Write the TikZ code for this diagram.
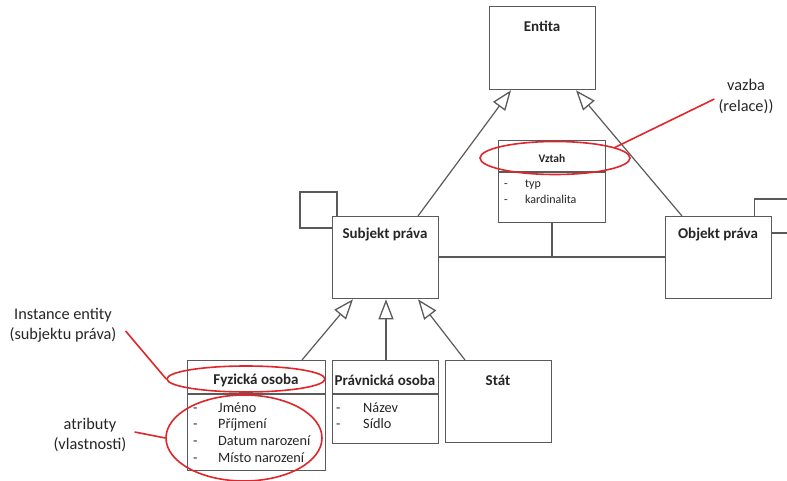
\documentclass[tikz,border=0pt]{standalone}
\usepackage{fontspec}
\setmainfont{Carlito}
\usetikzlibrary{arrows.meta,shapes.geometric,calc}
\definecolor{linegray}{HTML}{5A5A5A}
\definecolor{notered}{HTML}{E0262A}
\definecolor{inkgray}{HTML}{262626}

\begin{document}
\begin{tikzpicture}[x=1pt,y=-1pt,
  box/.style={draw=linegray, fill=white, line width=1.3pt, anchor=north west, inner sep=0pt},
  title/.style={font=\fontsize{15}{17}\selectfont\bfseries, text=inkgray, inner sep=0pt},
  attrs/.style={font=\fontsize{14.3}{16.7}\selectfont, text=inkgray, inner sep=0pt, anchor=base west, align=left},
  genline/.style={draw=linegray, line width=1.2pt},
  gentip/.tip={Triangle[open, length=20pt, width=15pt, line width=1.3pt, sep=0pt]},
  assoc/.style={draw=linegray, line width=1.2pt},
  ring/.style={draw=notered, line width=1.6pt, ellipse, inner sep=0pt},
  note/.style={font=\fontsize{16.3}{20}\selectfont, text=inkgray, align=center, inner sep=0pt},
  pointer/.style={draw=notered, line width=1.6pt}]

\useasboundingbox (0,0) rectangle (787,481);
\clip (0,0) rectangle (787,481);

% class boxes
\node[box, minimum width=106pt, minimum height=83pt] (entita) at (489,6) {};
\node[box, minimum width=107pt, minimum height=82pt] (vztah) at (498,140) {};
\node[box, minimum width=106pt, minimum height=82pt] (subjekt) at (332,216) {};
\node[box, minimum width=106pt, minimum height=82pt] (objekt) at (665,216) {};
\node[box, minimum width=138pt, minimum height=110pt] (fyz) at (187,360) {};
\node[box, minimum width=106pt, minimum height=83pt] (prav) at (332,360) {};
\node[box, minimum width=106pt, minimum height=82pt] (stat) at (445,360) {};

% compartment dividers
\draw[assoc, line width=1.3pt] ([yshift=-32pt]vztah.north west) -- ([yshift=-32pt]vztah.north east);
\draw[assoc, line width=1.3pt] ([yshift=-34pt]fyz.north west) -- ([yshift=-34pt]fyz.north east);
\draw[assoc, line width=1.3pt] ([yshift=-34pt]prav.north west) -- ([yshift=-34pt]prav.north east);

% class names
\node[title] (entita-t) at (542,26) {Entita};
\node[title, font=\fontsize{11.5}{13}\selectfont\bfseries] (vztah-t) at (552,159) {Vztah};
\node[title] (subjekt-t) at (385,235) {Subjekt práva};
\node[title] (objekt-t) at (718,235) {Objekt práva};
\node[title] (fyz-t) at (256,380) {Fyzická osoba};
\node[title] (prav-t) at (385,380) {Právnická osoba};
\node[title] (stat-t) at (498,380) {Stát};

% attributes
\node[attrs, font=\fontsize{12}{16}\selectfont] (vztah-a) at (504,188)
  {\begin{tabular}[t]{@{}p{21pt}@{}l@{}}-&typ\\-&kardinalita\end{tabular}};
\node[attrs] (fyz-a) at (193,412)
  {\begin{tabular}[t]{@{}p{25pt}@{}l@{}}-&Jméno\\-&Příjmení\\-&Datum narození\\-&Místo narození\end{tabular}};
\node[attrs] (prav-a) at (336,412)
  {\begin{tabular}[t]{@{}p{27pt}@{}l@{}}-&Název\\-&Sídlo\end{tabular}};

% generalizations
\draw[genline, -gentip] ([xshift=86pt]subjekt.north west) -- ([xshift=22pt]entita.south west);
\draw[genline, -gentip] ([xshift=17pt]objekt.north west) -- ([xshift=87pt]entita.south west);
\draw[genline, -gentip] ([xshift=115pt]fyz.north west) -- ([xshift=21pt]subjekt.south west);
\draw[genline, -gentip] ([xshift=54pt]prav.north west) -- ([xshift=54pt]subjekt.south west);
\draw[genline, -gentip] ([xshift=20pt]stat.north west) -- ([xshift=86pt]subjekt.south west);

% associations
\draw[assoc] ([yshift=-41pt]subjekt.north east) -- ([yshift=-41pt]objekt.north west);
\draw[assoc] ([xshift=54pt]vztah.south west) -- ++(0,35);
\draw[assoc] ([xshift=5pt]subjekt.north west) -- ++(0,-24) -- ++(-37,0) -- ++(0,36) -- ([yshift=-12pt]subjekt.north west);
\draw[assoc] ([xshift=-18pt]objekt.north east) -- ++(0,-17) -- ++(60,0) -- ++(0,34) -- ([yshift=-17pt]objekt.north east);

% annotations
\node[ring, minimum width=150pt, minimum height=33pt] (vztah-ring) at (555,158) {};
\node[ring, minimum width=158pt, minimum height=26pt] (fyz-ring) at (246,379) {};
\node[ring, minimum width=156pt, minimum height=86pt] (attr-ring) at (244,438) {};

\node[note, font=\fontsize{16.3}{21}\selectfont] (vazba) at (746,96) {vazba\\(relace))};
\node[note] (inst) at (63,325) {Instance entity\\(subjektu práva)};
\node[note] (atr) at (90,435) {atributy\\(vlastnosti)};

\draw[pointer] (vztah-ring.10) -- ([shift={(-4,3)}]vazba.west);
\draw[pointer] ([shift={(9,6)}]inst.east) -- (fyz-ring.west);
\draw[pointer] ([shift={(8,-3)}]atr.east) -- (attr-ring.west);
\end{tikzpicture}
\end{document}
